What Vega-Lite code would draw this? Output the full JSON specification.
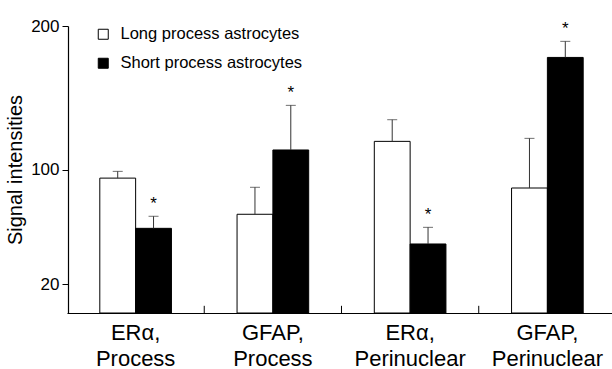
{
  "$schema": "https://vega.github.io/schema/vega-lite/v6.json",
  "width": 545,
  "height": 287,
  "autosize": {"type": "none"},
  "padding": {"left": 68, "top": 26, "right": 0, "bottom": 56},
  "background": "white",
  "config": {
    "view": {"stroke": null},
    "font": "Liberation Sans",
    "axis": {"domainColor": "black", "tickColor": "black", "labelColor": "black", "titleColor": "black", "grid": false, "domainWidth": 1.2, "labelFont": "Liberation Sans", "titleFont": "Liberation Sans"},
    "legend": {"labelFont": "Liberation Sans"},
    "text": {"font": "Liberation Sans"}
  },
  "datasets": {
    "bars": [
      {"group": "ERα,|Process", "type": "Long process astrocytes", "value": 94, "err": 98.7, "star": false},
      {"group": "ERα,|Process", "type": "Short process astrocytes", "value": 59, "err": 67.4, "star": true},
      {"group": "GFAP,|Process", "type": "Long process astrocytes", "value": 68.8, "err": 87.6, "star": false},
      {"group": "GFAP,|Process", "type": "Short process astrocytes", "value": 113.6, "err": 144.7, "star": true},
      {"group": "ERα,|Perinuclear", "type": "Long process astrocytes", "value": 119.6, "err": 134.7, "star": false},
      {"group": "ERα,|Perinuclear", "type": "Short process astrocytes", "value": 48.1, "err": 59.7, "star": true},
      {"group": "GFAP,|Perinuclear", "type": "Long process astrocytes", "value": 87.1, "err": 121.7, "star": false},
      {"group": "GFAP,|Perinuclear", "type": "Short process astrocytes", "value": 178.1, "err": 189.3, "star": true}
    ],
    "dividers": [
      {"group": "GFAP,|Process"},
      {"group": "ERα,|Perinuclear"},
      {"group": "GFAP,|Perinuclear"}
    ]
  },
  "data": {"name": "bars"},
  "encoding": {
    "x": {
      "field": "group",
      "type": "nominal",
      "sort": ["ERα,|Process", "GFAP,|Process", "ERα,|Perinuclear", "GFAP,|Perinuclear"],
      "scale": {"range": [-1, 548], "paddingInner": 0.478, "paddingOuter": 0.239},
      "axis": {
        "title": null,
        "labelAngle": 0,
        "labelFontSize": 22,
        "labelFont": "Liberation Sans",
        "labelExpr": "split(datum.label, '|')",
        "labelLineHeight": 26,
        "labelBaseline": "alphabetic",
        "ticks": false,
        "labelPadding": 26
      }
    }
  },
  "layer": [
    {
      "mark": {"type": "bar", "stroke": "black", "strokeWidth": 1},
      "encoding": {
        "xOffset": {"field": "type", "type": "nominal", "sort": ["Long process astrocytes", "Short process astrocytes"], "scale": {"paddingInner": 0, "paddingOuter": 0}},
        "y": {
          "field": "value",
          "type": "quantitative",
          "scale": {"domain": [0, 200]},
          "axis": {
            "values": [20, 100, 200],
            "tickSize": 6,
            "labelFontSize": 17,
            "labelFont": "Liberation Sans",
            "labelPadding": 3,
            "title": "Signal intensities",
            "titleFont": "Liberation Sans",
            "titleFontSize": 20,
            "titleFontWeight": "normal",
            "titlePadding": 5
          }
        },
        "fill": {
          "field": "type",
          "type": "nominal",
          "scale": {"domain": ["Long process astrocytes", "Short process astrocytes"], "range": ["white", "black"]},
          "legend": {
            "title": null,
            "orient": "none",
            "legendX": 27,
            "legendY": 0,
            "padding": 0,
            "symbolType": "square",
            "symbolSize": 100,
            "symbolStrokeColor": "black",
            "symbolStrokeWidth": 1,
            "labelFont": "Liberation Sans",
            "labelFontSize": 16.5,
            "labelColor": "black",
            "labelLimit": 0,
            "labelOffset": 9,
            "rowPadding": 12
          }
        }
      }
    },
    {
      "mark": {"type": "rule", "color": "#333", "strokeWidth": 1},
      "encoding": {
        "xOffset": {"field": "type", "type": "nominal", "sort": ["Long process astrocytes", "Short process astrocytes"]},
        "y": {"field": "value", "type": "quantitative"},
        "y2": {"field": "err"}
      }
    },
    {
      "mark": {"type": "tick", "color": "#333", "thickness": 1, "size": 10, "orient": "horizontal"},
      "encoding": {
        "xOffset": {"field": "type", "type": "nominal", "sort": ["Long process astrocytes", "Short process astrocytes"]},
        "y": {"field": "err", "type": "quantitative"}
      }
    },
    {
      "transform": [{"filter": "datum.star"}],
      "mark": {"type": "text", "text": "*", "font": "Liberation Sans", "fontSize": 17, "baseline": "middle", "dy": -12, "color": "black"},
      "encoding": {
        "xOffset": {"field": "type", "type": "nominal", "sort": ["Long process astrocytes", "Short process astrocytes"]},
        "y": {"field": "err", "type": "quantitative"}
      }
    },
    {
      "data": {"name": "dividers"},
      "mark": {"type": "rule", "color": "black", "strokeWidth": 1},
      "encoding": {
        "x": {"field": "group", "type": "nominal", "bandPosition": -0.458},
        "y": {"datum": 0, "type": "quantitative"},
        "y2": {"datum": 5}
      }
    }
  ]
}
